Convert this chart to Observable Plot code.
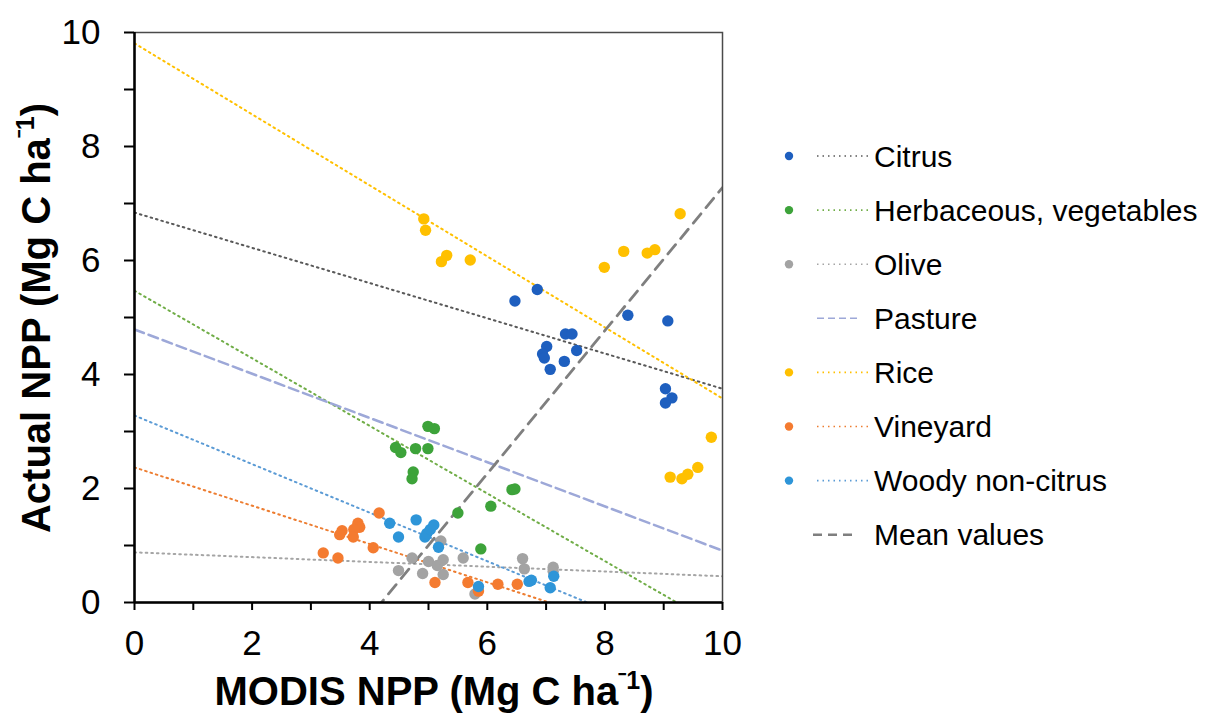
<!DOCTYPE html>
<html>
<head>
<meta charset="utf-8">
<script src="https://cdn.jsdelivr.net/npm/d3@7"></script>
<script src="https://cdn.jsdelivr.net/npm/@observablehq/plot@0.6"></script>
<style>
  body { margin: 0; background: #fff; }
  #wrap { position: relative; width: 1205px; height: 718px; }
  #overlay { position: absolute; left: 0; top: 0; pointer-events: none; }
</style>
</head>
<body>
<div id="wrap"></div>
<script>
// ---- Data ----
const categories = ["Citrus", "Herbaceous, vegetables", "Olive", "Pasture", "Rice", "Vineyard", "Woody non-citrus"];

const citrusPts = [[6.47,5.29],[6.85,5.49],[8.39,5.04],[9.07,4.94],[7.33,4.71],[7.44,4.71],[7.01,4.49],[6.94,4.36],[6.97,4.29],[7.52,4.42],[7.31,4.23],[7.07,4.09],[9.03,3.75],[9.14,3.59],[9.03,3.50]];
const herbPts = [[4.44,2.72],[4.53,2.63],[4.78,2.70],[4.74,2.29],[4.72,2.17],[4.99,2.70],[4.99,3.09],[5.10,3.05],[5.50,1.57],[5.89,0.94],[6.06,1.69],[6.42,1.98],[6.47,1.99]];
const olivePts = [[4.49,0.56],[4.72,0.78],[4.90,0.51],[5.00,0.72],[5.15,0.65],[5.21,1.08],[5.25,0.75],[5.25,0.49],[5.59,0.78],[5.79,0.15],[6.60,0.77],[6.63,0.59],[7.12,0.62],[7.12,0.55]];
const pasturePts = [];
const ricePts = [[4.92,6.73],[4.95,6.53],[5.22,5.98],[5.31,6.09],[5.71,6.01],[7.99,5.88],[8.32,6.16],[8.72,6.13],[8.85,6.19],[9.28,6.82],[9.11,2.20],[9.31,2.17],[9.41,2.25],[9.58,2.37],[9.81,2.90]];
const vineyardPts = [[4.16,1.57],[3.80,1.39],[3.83,1.32],[3.73,1.28],[3.53,1.26],[3.49,1.19],[3.72,1.15],[4.06,0.96],[3.21,0.87],[3.46,0.78],[5.11,0.35],[5.67,0.35],[5.85,0.20],[6.18,0.32],[6.51,0.32]];
const woodyPts = [[4.34,1.39],[4.49,1.15],[4.79,1.45],[4.94,1.15],[4.97,1.21],[5.03,1.28],[5.09,1.36],[5.17,0.97],[5.85,0.28],[6.71,0.37],[6.75,0.39],[7.13,0.46],[7.07,0.26]];

// Trend lines: value at MODIS = 0 and at MODIS = 10
const trendAt0  = [6.84, 5.47, 0.88, 4.79, 9.81, 2.37, 3.28];
const trendAt10 = [3.75, -0.46, 0.46, 0.91, 3.58, -0.99, -0.98];
const meanLineAt0 = -5.27, meanLineAt10 = 7.28;

const dotColors  = ["#1E5FBF", "#3DA33A", "#A3A3A3", null, "#FFC000", "#F47B30", "#2E95D8"];
const lineColors = ["#595959", "#70AD47", "#A5A5A5", "#9DA8D8", "#FFC000", "#ED7D31", "#5B9BD5"];
const lineDashed = [false, false, false, true, false, false, false];
const meanColor = "#7F7F7F";

const xTicks = d3.range(0, 11);
const yTicks = d3.range(0, 11);

// ---- Build ----
const allPts = [citrusPts, herbPts, olivePts, pasturePts, ricePts, vineyardPts, woodyPts];
const FONT = "'Liberation Sans', Arial, Helvetica, sans-serif";
const DOT = "1.6,4";
const DASH = "10,5";
const MEANDASH = "12,8";

const marks = [];
categories.forEach((c, i) => {
  marks.push(Plot.line([{x: 0, y: trendAt0[i]}, {x: 10, y: trendAt10[i]}], {
    x: "x", y: "y", stroke: lineColors[i],
    strokeWidth: lineDashed[i] ? 2.5 : 2,
    strokeDasharray: lineDashed[i] ? DASH : DOT,
    clip: true
  }));
});
marks.push(Plot.line([{x: 0, y: meanLineAt0}, {x: 10, y: meanLineAt10}], {
  x: "x", y: "y", stroke: meanColor, strokeWidth: 2.8, strokeDasharray: MEANDASH, clip: true
}));
categories.forEach((c, i) => {
  if (!allPts[i].length) return;
  marks.push(Plot.dot(allPts[i].map(([x, y]) => ({x, y})), {
    x: "x", y: "y", r: 5.7, fill: dotColors[i], stroke: "none"
  }));
});
marks.push(Plot.frame({stroke: "#4a4a4a", strokeWidth: 1.5}));
marks.push(Plot.ruleX([0], {stroke: "#000", strokeWidth: 2.5}));
marks.push(Plot.ruleY([0], {stroke: "#000", strokeWidth: 2.5}));
marks.push(Plot.axisX({ticks: xTicks, tickFormat: d => d % 2 ? "" : d, tickSize: 8, tickPadding: 20, fontSize: 35, strokeWidth: 2, label: null}));
marks.push(Plot.axisY({ticks: yTicks, tickFormat: d => d % 2 ? "" : d, tickSize: 10, tickPadding: 24, fontSize: 35, strokeWidth: 2, label: null}));

const chart = Plot.plot({
  width: 1205,
  height: 718,
  marginLeft: 134,
  marginRight: 483,
  marginTop: 32,
  marginBottom: 116,
  x: {domain: [0, 10]},
  y: {domain: [0, 10]},
  style: {fontFamily: FONT, color: "#000", background: "#fff"},
  marks
});
const wrap = document.getElementById("wrap");
wrap.appendChild(chart);

// ---- Overlay: axis titles and legend ----
const svg = d3.select(wrap).append("svg")
  .attr("id", "overlay").attr("width", 1205).attr("height", 718)
  .style("font-family", FONT);

const xt = svg.append("text").attr("x", 434).attr("y", 705)
  .attr("text-anchor", "middle").attr("font-size", 40).attr("font-weight", "bold").attr("fill", "#000");
xt.append("tspan").text("MODIS NPP (Mg C ha");
xt.append("tspan").attr("font-size", 25).attr("dy", -16).text("\u207B1");
xt.append("tspan").attr("dy", 16).text(")");

const yt = svg.append("text").attr("transform", "translate(50,318) rotate(-90)")
  .attr("text-anchor", "middle").attr("font-size", 40).attr("font-weight", "bold").attr("fill", "#000");
yt.append("tspan").text("Actual NPP (Mg C ha");
yt.append("tspan").attr("font-size", 25).attr("dy", -16).text("\u207B1");
yt.append("tspan").attr("dy", 16).text(")");

const legendItems = categories.map((c, i) => ({label: c, dot: dotColors[i], line: lineColors[i], dashed: lineDashed[i], mean: false}))
  .concat([{label: "Mean values", dot: null, line: meanColor, dashed: true, mean: true}]);

legendItems.forEach((d, i) => {
  const cy = 156 + i * 54.1;
  const g = svg.append("g");
  if (d.dot) g.append("circle").attr("cx", 789).attr("cy", cy).attr("r", 4.2).attr("fill", d.dot);
  const x1 = d.mean ? 813 : 817;
  const x2 = d.dashed ? (d.mean ? 857 : 860) : 868;
  g.append("line").attr("x1", x1).attr("x2", x2).attr("y1", cy).attr("y2", cy)
    .attr("stroke", d.line)
    .attr("stroke-width", d.mean ? 2.5 : 1.6)
    .attr("stroke-dasharray", d.mean ? "9,6" : (d.dashed ? "7,4" : "1.5,4"));
  g.append("text").attr("x", 874).attr("y", cy).attr("dy", "0.35em")
    .attr("font-size", 30).attr("fill", "#000").text(d.label);
});
</script>
</body>
</html>
